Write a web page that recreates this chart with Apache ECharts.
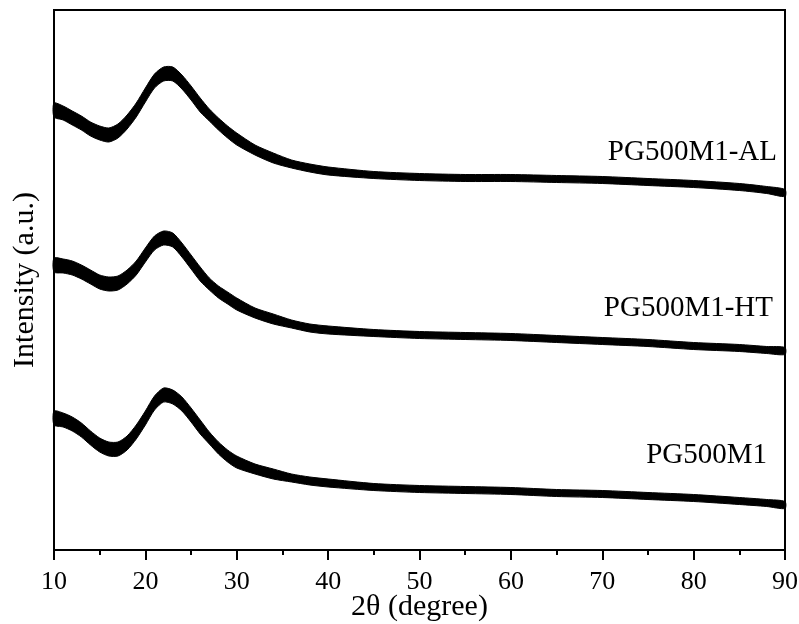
<!DOCTYPE html>
<html>
<head>
<meta charset="utf-8">
<title>XRD</title>
<script src="https://cdn.jsdelivr.net/npm/echarts@6/dist/echarts.min.js"></script>
<style>
	html, body { margin: 0; padding: 0; background: #fff; }
	#chart { width: 799px; height: 624px; }
</style>
</head>
<body>
<div id="chart"></div>
<script>
// 2theta positions (degree)
var angles = [10, 11, 12, 13, 14, 15, 16, 17, 18, 19, 20, 21, 22, 23, 24, 25, 26, 27, 28, 29, 30,
	32, 34, 36, 38, 40, 45, 50, 55, 60, 65, 70, 75, 80, 85, 88, 90];
// intensity (a.u., offset stacked)
var seriesAL = [440, 437, 432, 427, 421, 417, 415, 419, 428, 440, 455, 469, 476, 476, 468, 457, 445, 435, 426, 418, 411,
	400, 392, 386, 382, 379, 375, 373, 372, 372, 371, 370, 368, 366, 363, 360, 357];
var seriesHT = [285, 284, 282, 278, 273, 268, 266, 267, 273, 282, 295, 307, 312, 310, 300, 288, 276, 266, 258, 252, 246,
	237, 231, 226, 222, 220, 217, 215, 214, 213, 211, 209, 207, 204, 202, 200, 199];
var seriesM1 = [132, 130, 126, 120, 112, 105, 101, 101, 107, 118, 132, 147, 155, 153, 146, 135, 123, 112, 102, 94, 88,
	81, 76, 72, 69, 67, 63, 61, 60, 59, 57, 56, 54, 52, 49, 47, 45];
// half width of the noise band
var noise = [7, 7, 7, 7, 7, 7, 7, 7, 7, 7, 7, 7, 7, 7, 7, 7, 7, 6, 6, 6, 6,
	5, 5, 4, 4, 4, 3.5, 3.5, 3.5, 3.5, 3.5, 3.5, 3.5, 3.5, 3.5, 3.5, 3.5];
var names = ["PG500M1-AL", "PG500M1-HT", "PG500M1"];
var xTicks = [10, 20, 30, 40, 50, 60, 70, 80, 90];

var font = "'Liberation Serif', 'Times New Roman', serif";

// noise band drawn as one polygon: upper edge forward, lower edge back
function band(name, values) {
	return {
		name: name,
		type: "custom",
		silent: true,
		data: [0],
		renderItem: function (params, api) {
			var pts = [];
			for (var i = 0; i < angles.length; i++) {
				pts.push(api.coord([angles[i], values[i] + noise[i]]));
			}
			for (var j = angles.length - 1; j >= 0; j--) {
				pts.push(api.coord([angles[j], values[j] - noise[j]]));
			}
			return {
				type: "polygon",
				shape: { points: pts, smooth: 0.25 },
				style: { fill: "#000", stroke: "#000", lineWidth: 1 }
			};
		}
	};
}

var chart = echarts.init(document.getElementById("chart"));

var option = {
	animation: false,
	backgroundColor: "#fff",
	grid: {
		left: 54, right: 14, top: 10, bottom: 74,
		outerBoundsMode: "none",
		show: true, borderColor: "#000", borderWidth: 2
	},
	xAxis: {
		type: "value",
		min: 10,
		max: 90,
		interval: 10,
		name: "2θ (degree)",
		nameLocation: "middle",
		nameGap: 42,
		nameMoveOverlap: false,
		nameTextStyle: { fontFamily: font, fontSize: 30, color: "#000" },
		axisLine: { lineStyle: { color: "#000", width: 2 } },
		axisTick: { length: 10, lineStyle: { color: "#000", width: 2 } },
		minorTick: { show: true, splitNumber: 2, length: 5, lineStyle: { color: "#000", width: 2 } },
		splitLine: { show: false },
		axisLabel: {
			margin: 19,
			fontFamily: font,
			fontSize: 26,
			color: "#000",
			formatter: function (v) { return xTicks.indexOf(v) >= 0 ? String(v) : ""; }
		}
	},
	yAxis: {
		type: "value",
		min: 0,
		max: 540,
		name: "Intensity (a.u.)",
		nameLocation: "middle",
		nameGap: 14,
		nameMoveOverlap: false,
		nameTextStyle: { fontFamily: font, fontSize: 30, color: "#000" },
		axisLine: { show: true, lineStyle: { color: "#000", width: 2 } },
		axisTick: { show: false },
		axisLabel: { show: false },
		splitLine: { show: false }
	},
	graphic: [
		{ type: "text", right: 22, top: 138, style: { text: names[0], font: "29px " + font, fill: "#000" } },
		{ type: "text", right: 26, top: 294, style: { text: names[1], font: "29px " + font, fill: "#000" } },
		{ type: "text", right: 32, top: 441, style: { text: names[2], font: "29px " + font, fill: "#000" } }
	],
	series: [band(names[0], seriesAL), band(names[1], seriesHT), band(names[2], seriesM1)]
};
chart.setOption(option);
</script>
</body>
</html>
